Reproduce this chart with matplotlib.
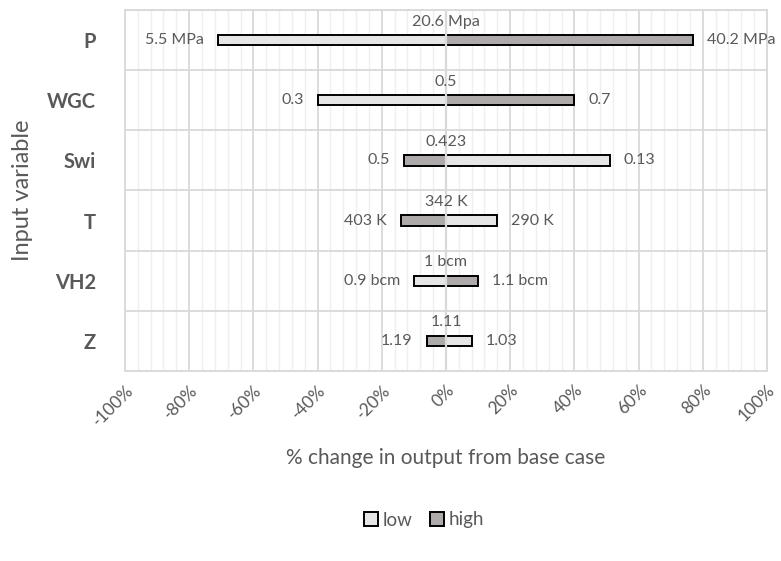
import numpy as np
import matplotlib
matplotlib.use("Agg")
import matplotlib.pyplot as plt
from matplotlib.ticker import MultipleLocator, FuncFormatter
from matplotlib.patches import Patch

# ---- data ----
variables = ['P', 'WGC', 'Swi', 'T', 'VH2', 'Z']
base_labels = ['20.6 Mpa', '0.5', '0.423', '342 K', '1 bcm', '1.11']
low_change = [-71, -40, 51, 16, -10, 8]      # % change, low input
high_change = [77, 40, -13, -14, 10, -6]     # % change, high input
low_labels = ['5.5 MPa', '0.3', '0.13', '290 K', '0.9 bcm', '1.03']
high_labels = ['40.2 MPa', '0.7', '0.5', '403 K', '1.1 bcm', '1.19']

# ---- style ----
plt.rcParams['font.family'] = ['Lato', 'DejaVu Sans']
plt.rcParams['axes.unicode_minus'] = False
TXT = '#595959'
LIGHT = '#E7E6E6'
DARK = '#AEAAAA'
GRID = '#D9D9D9'
GRID_MINOR = '#EFEFEF'

fig = plt.figure(figsize=(7.81, 5.61), dpi=100)
ax = fig.add_axes([0.160, 0.339, 0.822, 0.643])

y = np.arange(len(variables))
bar_h = 0.17

ax.barh(y, low_change, height=bar_h, color=LIGHT, edgecolor='black',
        linewidth=1.4, zorder=3, label='low')
ax.barh(y, high_change, height=bar_h, color=DARK, edgecolor='black',
        linewidth=1.4, zorder=3, label='high')
ax.axvline(0, color=GRID, linewidth=1.6, zorder=4)

# data labels
for i in range(len(variables)):
    ax.text(0, i - 0.31, base_labels[i], ha='center', va='center',
            fontsize=11.5, color=TXT, zorder=5)
    for val, lab in ((low_change[i], low_labels[i]), (high_change[i], high_labels[i])):
        if val < 0:
            ax.annotate(lab, (val, i), xytext=(-10, 0), textcoords='offset points',
                        ha='right', va='center', fontsize=11.5, color=TXT,
                        annotation_clip=False)
        else:
            ax.annotate(lab, (val, i), xytext=(10, 0), textcoords='offset points',
                        ha='left', va='center', fontsize=11.5, color=TXT,
                        annotation_clip=False)

# axes
ax.set_xlim(-100, 100)
ax.set_ylim(len(variables) - 0.5, -0.5)
ax.xaxis.set_major_locator(MultipleLocator(20))
ax.xaxis.set_minor_locator(MultipleLocator(4))
ax.xaxis.set_major_formatter(FuncFormatter(lambda v, p: f'{int(round(v))}%'))
ax.set_yticks(y)
ax.set_yticklabels(variables, fontsize=14.5, fontweight='bold', color=TXT)
ax.set_yticks(np.arange(-0.5, len(variables)), minor=True)

ax.grid(True, which='major', axis='x', color=GRID, linewidth=1.3, zorder=0)
ax.grid(True, which='minor', axis='x', color=GRID_MINOR, linewidth=1.0, zorder=0)
ax.grid(True, which='minor', axis='y', color=GRID, linewidth=1.3, zorder=0)
ax.set_axisbelow(True)
ax.tick_params(axis='both', which='both', length=0)
ax.tick_params(axis='y', pad=21)
for lbl in ax.get_xticklabels():
    lbl.set_rotation(45)
    lbl.set_ha('right')
    lbl.set_rotation_mode('anchor')
    lbl.set_fontsize(12.5)
    lbl.set_color(TXT)
ax.tick_params(axis='x', pad=8)
for s in ax.spines.values():
    s.set_color(GRID)
    s.set_linewidth(1.3)

ax.set_xlabel('% change in output from base case', fontsize=15, color=TXT, labelpad=14)
ax.set_ylabel('Input variable', fontsize=17, color=TXT, labelpad=10)

handles = [Patch(facecolor=LIGHT, edgecolor='black', linewidth=1.4, label='low'),
           Patch(facecolor=DARK, edgecolor='black', linewidth=1.4, label='high')]
fig.legend(handles=handles, loc='center', bbox_to_anchor=(424 / 781, 1 - 520 / 561),
           ncol=2, frameon=False, fontsize=13.5, handlelength=0.75, handleheight=0.75,
           handletextpad=0.25, columnspacing=0.9, labelcolor=TXT)

fig.savefig('out.png', dpi=100)
